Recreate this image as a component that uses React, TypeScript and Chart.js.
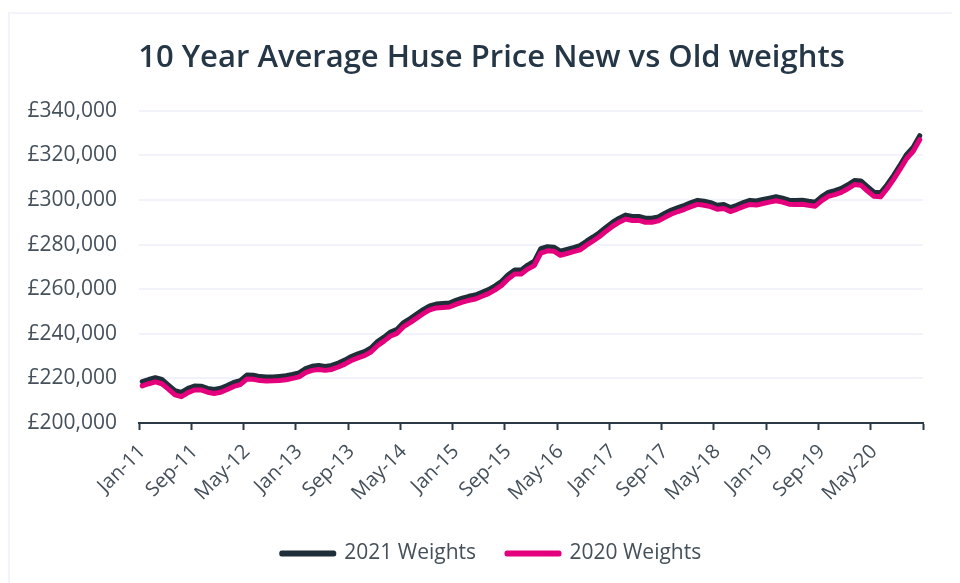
import React, { useEffect, useRef } from "react";
import { Chart, registerables } from "chart.js";

Chart.register(...registerables);

const MONTHS = ["Jan", "Feb", "Mar", "Apr", "May", "Jun", "Jul", "Aug", "Sep", "Oct", "Nov", "Dec"];
const YEARS = ["11", "12", "13", "14", "15", "16", "17", "18", "19", "20"];
const CATEGORIES: string[] = [];
YEARS.forEach((y) => MONTHS.forEach((m) => CATEGORIES.push(`${m}-${y}`)));

const TITLE = "10 Year Average Huse Price New vs Old weights";
const SERIES_NAMES = ["2021 Weights", "2020 Weights"];

// values in £ thousands
const WEIGHTS_2021 = [
  218.5, 219.5, 220.3, 219.5, 217.0, 214.5, 213.7, 215.5, 216.6, 216.5, 215.5, 215.0,
  215.6, 216.8, 218.2, 219.0, 221.5, 221.4, 220.8, 220.6, 220.6, 220.9, 221.2, 221.8,
  222.5, 224.4, 225.4, 225.8, 225.3, 225.8, 226.9, 228.2, 229.8, 231.0, 232.0, 233.6,
  236.5, 238.5, 240.8, 242.0, 245.0, 246.8, 248.8, 250.8, 252.5, 253.3, 253.6, 253.8,
  255.0, 256.0, 256.8, 257.4, 258.6, 259.8, 261.5, 263.5, 266.5, 268.6, 268.6, 270.8,
  272.5, 278.2, 279.0, 278.8, 277.0, 277.8, 278.6, 279.5, 281.5, 283.4, 285.4, 287.8,
  290.0, 291.8, 293.2, 292.6, 292.6, 291.8, 291.8, 292.4, 294.0, 295.5, 296.6, 297.6,
  298.8, 299.8, 299.4, 298.8, 297.6, 298.0, 296.6, 297.6, 298.8, 299.8, 299.5, 300.2,
  300.8, 301.4, 300.8, 299.9, 299.8, 299.9, 299.4, 299.0, 301.5, 303.4, 304.2, 305.2,
  306.8, 308.7, 308.5, 306.0, 303.5, 303.2, 306.8, 311.0, 315.6, 320.4, 323.6, 328.8,
];

const WEIGHTS_2020 = [
  216.6, 217.6, 218.4, 217.6, 215.2, 212.6, 211.8, 213.6, 214.8, 214.8, 213.8, 213.2,
  213.8, 215.0, 216.4, 217.2, 219.7, 219.6, 219.0, 218.8, 218.9, 219.1, 219.4, 220.0,
  220.7, 222.6, 223.6, 224.0, 223.6, 224.0, 225.1, 226.4, 228.0, 229.2, 230.2, 231.8,
  234.6, 236.7, 239.0, 240.2, 243.2, 245.0, 247.0, 249.0, 250.7, 251.6, 251.8, 252.0,
  253.2, 254.2, 255.0, 255.6, 256.8, 258.0, 259.7, 261.7, 264.6, 266.8, 266.8, 269.0,
  270.6, 276.2, 277.2, 277.0, 275.2, 276.0, 276.8, 277.6, 279.7, 281.6, 283.6, 286.0,
  288.2, 290.0, 291.4, 290.8, 290.8, 290.0, 290.0, 290.6, 292.2, 293.7, 294.8, 295.8,
  297.0, 298.0, 297.6, 297.0, 295.8, 296.2, 294.8, 295.8, 297.0, 298.0, 297.7, 298.4,
  299.0, 299.6, 299.0, 298.1, 298.0, 298.1, 297.6, 297.2, 299.7, 301.6, 302.4, 303.4,
  305.0, 306.9, 306.6, 304.0, 301.6, 301.4, 305.0, 309.2, 313.8, 318.6, 321.8, 327.0,
];

const Y_MIN = 200;
const Y_MAX = 340;
const Y_STEP = 20;
const LABEL_EVERY = 8;

const DARK = "#1f2e39";
const PINK = "#e4007c";
const AXIS = "#2a3944";
const TEXT = "#45505a";
const GRID = "#f2f2fb";

export default function App() {
  const ref = useRef<HTMLCanvasElement | null>(null);

  useEffect(() => {
    if (!ref.current) return;
    Chart.defaults.font.family = "'Open Sans', sans-serif";
    const chart = new Chart(ref.current, {
      type: "line",
      data: {
        labels: CATEGORIES,
        datasets: [
          {
            label: SERIES_NAMES[0],
            data: WEIGHTS_2021.map((v) => v * 1000),
            borderColor: DARK,
            backgroundColor: DARK,
            borderWidth: 5,
            pointRadius: 0,
            tension: 0,
            borderJoinStyle: "round",
            borderCapStyle: "round",
            order: 1,
          },
          {
            label: SERIES_NAMES[1],
            data: WEIGHTS_2020.map((v) => v * 1000),
            borderColor: PINK,
            backgroundColor: PINK,
            borderWidth: 5,
            pointRadius: 0,
            tension: 0,
            borderJoinStyle: "round",
            borderCapStyle: "round",
            order: 0,
          },
        ],
      },
      options: {
        animation: false,
        responsive: false,
        layout: { padding: { left: 16, right: 3, top: 0, bottom: 9 } },
        plugins: {
          title: {
            display: true,
            text: TITLE,
            color: "#253746",
            font: { size: 31, weight: "600" },
            padding: { top: 26, bottom: 33.5 },
          },
          legend: {
            position: "bottom",
            labels: {
              color: TEXT,
              font: { size: 21 },
              boxWidth: 52,
              boxHeight: 1,
              padding: 31,
              sort: (a: any, b: any) => a.datasetIndex - b.datasetIndex,
            },
          },
          tooltip: { enabled: false },
        },
        scales: {
          x: {
            type: "category",
            offset: true,
            afterFit: (s: any) => {
              s.height = 89;
            },
            grid: {
              display: true,
              offset: true,
              drawOnChartArea: false,
              drawTicks: true,
              tickLength: 7,
              tickWidth: 2,
              tickColor: (c: any) =>
                c.index === undefined || c.index % LABEL_EVERY === 0 ? AXIS : "rgba(0,0,0,0)",
            },
            border: { display: true, color: AXIS, width: 2 },
            ticks: {
              autoSkip: false,
              minRotation: 45,
              maxRotation: 45,
              color: TEXT,
              font: { size: 20 },
              padding: 10,
              callback: (_v: any, i: number) => (i % LABEL_EVERY === 0 ? CATEGORIES[i] : ""),
            },
          },
          y: {
            min: Y_MIN * 1000,
            max: Y_MAX * 1000,
            afterFit: (s: any) => {
              s.width = 113;
            },
            grid: { color: GRID, lineWidth: 2, drawTicks: false },
            border: { display: false },
            ticks: {
              stepSize: Y_STEP * 1000,
              color: TEXT,
              font: { size: 21 },
              padding: 22,
              callback: (v: any) => "£" + Number(v).toLocaleString("en-GB"),
            },
          },
          spacer: {
            type: "linear",
            position: "right",
            display: true,
            afterFit: (s: any) => {
              s.width = 34;
            },
            grid: { display: false, drawTicks: false },
            border: { display: false },
            ticks: { display: false },
          },
        },
      },
    });
    return () => chart.destroy();
  }, []);

  return (
    <div style={{ paddingTop: 4 }}>
      <div
        style={{
          borderTop: "2px solid #f3f3fb",
          borderLeft: "2px solid #f3f3fb",
          width: 950,
          height: 569,
        }}
      >
        <canvas ref={ref} width={950} height={569} style={{ display: "block" }} />
      </div>
    </div>
  );
}
